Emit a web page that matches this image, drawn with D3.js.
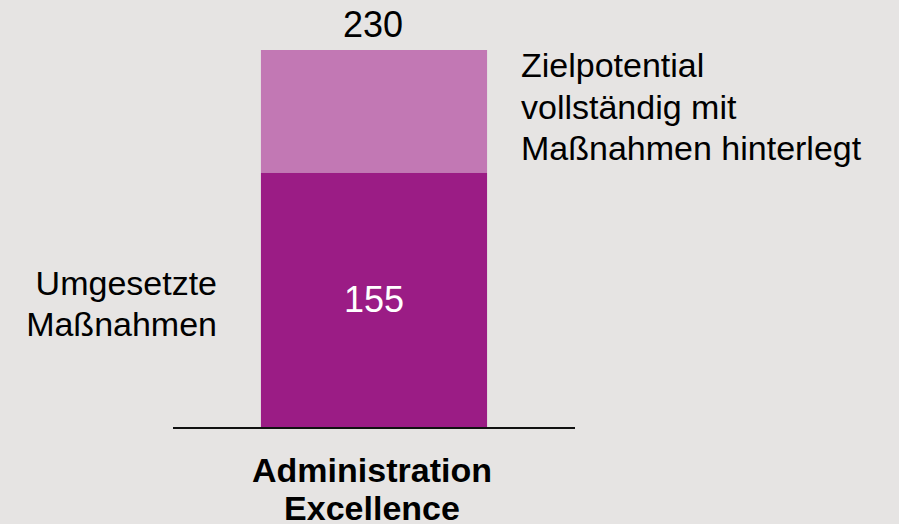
<!DOCTYPE html>
<html>
<head>
<meta charset="utf-8">
<script src="https://cdn.jsdelivr.net/npm/d3@7/dist/d3.min.js"></script>
<style>
  html, body { margin: 0; padding: 0; background: #e6e4e3; }
  svg { display: block; font-family: "Liberation Sans", Arial, sans-serif; }
</style>
</head>
<body>
<svg></svg>
<script>
const categories = ["Administration Excellence"];
const umgesetzt = [155];
const gesamt = [230];
const leftLabel = ["Umgesetzte", "Maßnahmen"];
const rightLabel = ["Zielpotential", "vollständig mit", "Maßnahmen hinterlegt"];
const categoryLines = [["Administration", "Excellence"]];

const width = 899, height = 524;
const svg = d3.select("svg").attr("width", width).attr("height", height);

svg.append("rect").attr("width", width).attr("height", height).attr("fill", "#e6e4e3");

const x = d3.scaleBand().domain(categories).range([173, 575]).padding(0.28);
const y = d3.scaleLinear().domain([0, 230]).range([427, 50]);

const g = svg.append("g");

// upper segment (target potential)
g.selectAll("rect.ziel")
  .data(categories)
  .enter()
  .append("rect")
  .attr("class", "ziel")
  .attr("x", d => x(d))
  .attr("width", x.bandwidth())
  .attr("y", (d, i) => y(gesamt[i]))
  .attr("height", (d, i) => y(umgesetzt[i]) - y(gesamt[i]))
  .attr("fill", "#c278b4");

// lower segment (implemented)
g.selectAll("rect.umg")
  .data(categories)
  .enter()
  .append("rect")
  .attr("class", "umg")
  .attr("x", d => x(d))
  .attr("width", x.bandwidth())
  .attr("y", (d, i) => y(umgesetzt[i]))
  .attr("height", (d, i) => y(0) - y(umgesetzt[i]))
  .attr("fill", "#9b1c85");

// baseline
g.append("line")
  .attr("x1", x.range()[0])
  .attr("x2", x.range()[1])
  .attr("y1", y(0) + 1)
  .attr("y2", y(0) + 1)
  .attr("stroke", "#111")
  .attr("stroke-width", 2);

// value labels
g.selectAll("text.total")
  .data(categories)
  .enter()
  .append("text")
  .attr("x", d => x(d) + x.bandwidth() / 2 - 1)
  .attr("y", (d, i) => y(gesamt[i]) - 13)
  .attr("text-anchor", "middle")
  .attr("font-size", 36)
  .attr("fill", "#000")
  .text((d, i) => gesamt[i]);

g.selectAll("text.inner")
  .data(categories)
  .enter()
  .append("text")
  .attr("x", d => x(d) + x.bandwidth() / 2)
  .attr("y", (d, i) => (y(umgesetzt[i]) + y(0)) / 2 + 12)
  .attr("text-anchor", "middle")
  .attr("font-size", 36)
  .attr("fill", "#fff")
  .text((d, i) => umgesetzt[i]);

// category label
categories.forEach((c, i) => {
  const t = g.append("text")
    .attr("text-anchor", "middle")
    .attr("font-size", 34)
    .attr("font-weight", "bold")
    .attr("fill", "#000");
  categoryLines[i].forEach((line, j) => {
    t.append("tspan")
      .attr("x", x(c) + x.bandwidth() / 2 - 2)
      .attr("y", 482 + j * 38)
      .text(line);
  });
});

// left annotation
const lt = g.append("text")
  .attr("text-anchor", "end")
  .attr("font-size", 34)
  .attr("fill", "#000");
leftLabel.forEach((line, j) => {
  lt.append("tspan").attr("x", 217).attr("y", 295 + j * 41).text(line);
});

// right annotation
const rt = g.append("text")
  .attr("text-anchor", "start")
  .attr("font-size", 34)
  .attr("fill", "#000");
rightLabel.forEach((line, j) => {
  rt.append("tspan").attr("x", 521).attr("y", 77 + j * 41.5).text(line);
});
</script>
</body>
</html>
